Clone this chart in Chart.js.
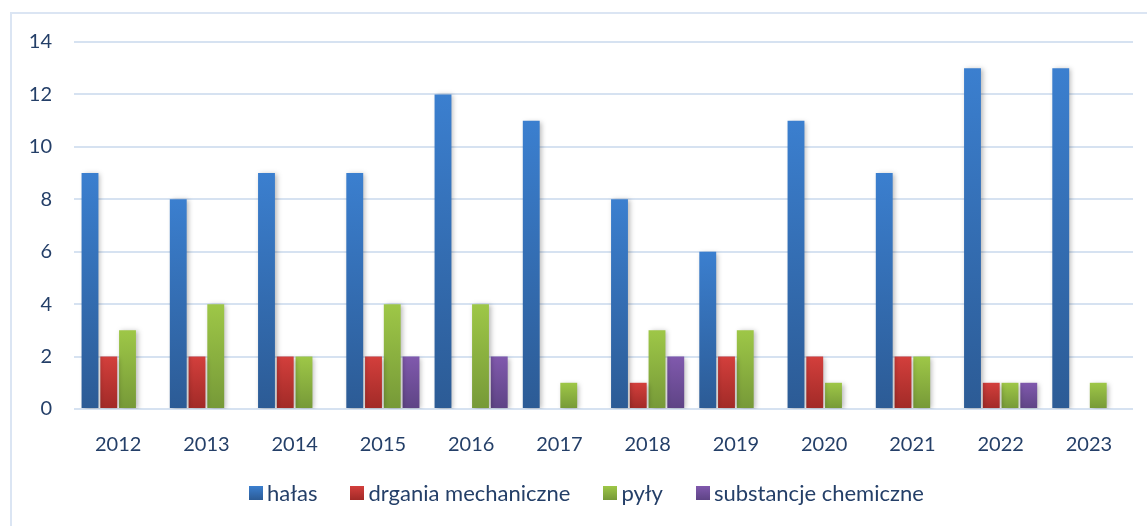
<!DOCTYPE html>
<html>
<head>
<meta charset="utf-8">
<script src="https://cdn.jsdelivr.net/npm/chart.js@4"></script>
<style>
  html, body { margin: 0; padding: 0; background: #fff; overflow: hidden; }
  #wrap { position: relative; width: 1147px; height: 526px; }
  #ramka { position: absolute; left: 10px; top: 12px; width: 1200px; height: 600px; border: 2px solid #dbe5f3; box-sizing: border-box; }
  #wykres { position: absolute; left: 0; top: 0; }
  #legenda { position: absolute; left: 249px; top: 479px; display: flex; align-items: center;
    font-family: Lato, sans-serif; font-size: 22px; color: #243f68; white-space: nowrap; }
  #legenda .poz { display: flex; align-items: center; margin-right: 33px; }
  #legenda .kw { width: 14px; height: 14px; margin-right: 4px; }
</style>
</head>
<body>
<div id="wrap">
  <div id="ramka"></div>
  <canvas id="wykres" width="1147" height="526"></canvas>
  <div id="legenda"></div>
</div>
<script>
// Dane
const lata = ['2012', '2013', '2014', '2015', '2016', '2017', '2018', '2019', '2020', '2021', '2022', '2023'];
const halas = [9, 8, 9, 9, 12, 11, 8, 6, 11, 9, 13, 13];
const drgania = [2, 2, 2, 2, 0, 0, 1, 2, 2, 2, 1, 0];
const pyly = [3, 4, 2, 4, 4, 1, 3, 3, 1, 2, 1, 1];
const substancje = [0, 0, 0, 2, 2, 0, 2, 0, 0, 0, 1, 0];
const osY = [0, 2, 4, 6, 8, 10, 12, 14];

// kolory: [góra, dół]
const kolory = {
  halas: ['#3b7fcf', '#2c5b95'],
  drgania: ['#d33f3c', '#a12a27'],
  pyly: ['#9ec747', '#769938'],
  substancje: ['#8059ad', '#5e4485']
};

function gradient(para) {
  return (ctx) => {
    const chart = ctx.chart;
    const y = chart.scales.y;
    if (!y || ctx.type !== 'data') return para[0];
    const gora = y.getPixelForValue(ctx.raw);
    const dol = y.getPixelForValue(0);
    if (!isFinite(gora) || gora === dol) return para[0];
    const g = chart.ctx.createLinearGradient(0, gora, 0, dol);
    g.addColorStop(0, para[0]);
    g.addColorStop(1, para[1]);
    return g;
  };
}

const zestawy = [
  { label: 'hałas', data: halas, kol: kolory.halas },
  { label: 'drgania mechaniczne', data: drgania, kol: kolory.drgania },
  { label: 'pyły', data: pyly, kol: kolory.pyly },
  { label: 'substancje chemiczne', data: substancje, kol: kolory.substancje }
];

// cień pod słupkami
const cien = {
  id: 'cien',
  beforeDatasetsDraw(chart) {
    const c = chart.ctx;
    c.save();
    c.shadowColor = 'rgba(0,0,0,0.28)';
    c.shadowBlur = 5;
    c.shadowOffsetX = 2;
    c.shadowOffsetY = 1;
  },
  afterDatasetsDraw(chart) {
    chart.ctx.restore();
  }
};

const tekst = '#243f68';
const czcionka = { family: 'Lato, sans-serif', size: 20 };

new Chart(document.getElementById('wykres').getContext('2d'), {
  type: 'bar',
  data: {
    labels: lata,
    datasets: zestawy.map(z => ({
      label: z.label,
      data: z.data,
      backgroundColor: gradient(z.kol),
      borderWidth: 0,
      categoryPercentage: 0.85,
      barPercentage: 0.9
    }))
  },
  options: {
    responsive: false,
    animation: false,
    layout: { padding: { top: 42, right: 14, bottom: 67, left: 0 } },
    plugins: { legend: { display: false }, tooltip: { enabled: false } },
    scales: {
      x: {
        grid: { display: false },
        border: { display: false },
        ticks: { color: tekst, font: czcionka, padding: 16 },
        afterFit: (s) => { s.height = 50; }
      },
      y: {
        min: 0,
        max: 14,
        afterBuildTicks: (s) => { s.ticks = osY.map(v => ({ value: v })); },
        grid: { color: '#d6e2f1', lineWidth: 2, drawTicks: false },
        border: { display: false },
        ticks: { color: tekst, font: czcionka, padding: 22 },
        afterFit: (s) => { s.width = 74; }
      }
    }
  },
  plugins: [cien]
});

// Legenda
const legenda = document.getElementById('legenda');
zestawy.forEach(z => {
  const poz = document.createElement('div');
  poz.className = 'poz';
  poz.innerHTML = `<span class="kw" style="background: linear-gradient(${z.kol[0]}, ${z.kol[1]})"></span><span>${z.label}</span>`;
  legenda.appendChild(poz);
});
</script>
</body>
</html>
